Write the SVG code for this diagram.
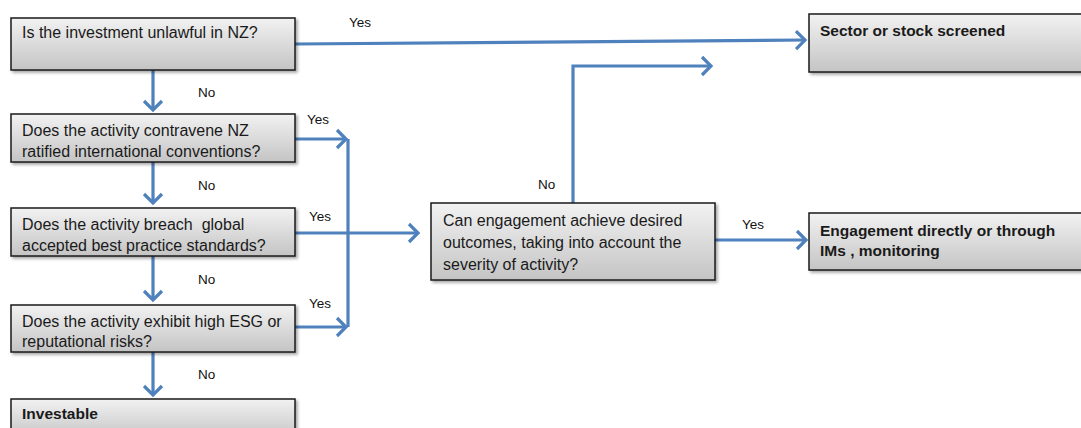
<svg xmlns="http://www.w3.org/2000/svg" width="1081" height="428" viewBox="0 0 1081 428">
<style>
.box{fill:url(#g);stroke:#1a1a1a;stroke-width:1.5;filter:url(#sh)}
.t{font-family:"Liberation Sans",Arial,sans-serif;font-size:16px;fill:#1a1a1a}
.b{font-weight:bold;font-size:15.5px}
.lb{font-family:"Liberation Sans",Arial,sans-serif;font-size:13.5px;fill:#111}
.c{fill:none;stroke:#4f81bd;stroke-width:3.2;marker-end:url(#a)}
.n{fill:none;stroke:#4f81bd;stroke-width:3.2}
</style>
<defs>
<linearGradient id="g" x1="0" y1="0" x2="0" y2="1">
<stop offset="0" stop-color="#f2f2f2"/>
<stop offset="1" stop-color="#c4c4c4"/>
</linearGradient>
<filter id="sh" x="-5%" y="-10%" width="115%" height="130%">
<feDropShadow dx="2" dy="2" stdDeviation="1.5" flood-color="#000" flood-opacity="0.35"/>
</filter>
<marker id="a" markerWidth="8" markerHeight="10" refX="6" refY="5" orient="auto" markerUnits="userSpaceOnUse" viewBox="0 0 8 10" overflow="visible">
<polyline points="-3,-4 6,5 -3,14" fill="none" stroke="#4f81bd" stroke-width="3.2" stroke-linejoin="miter"/>
</marker>
</defs>
<g id="connectors">
<path class="c" d="M295,44 L805,40"/>
<path class="c" d="M153,70 L153,110"/>
<path class="c" d="M153,162 L153,203"/>
<path class="c" d="M153,256 L153,300"/>
<path class="c" d="M153,352 L153,395"/>
<path class="c" d="M295,139 L346,139"/>
<path class="c" d="M295,327 L346,327"/>
<path class="n" d="M348,139 L348,327"/>
<path class="c" d="M295,233 L418,233"/>
<path class="c" d="M573,203 L573,66 L711,66"/>
<path class="c" d="M715,240 L806,240"/>
</g>
<g id="labels">
<text class="lb" x="349" y="27">Yes</text>
<text class="lb" x="198" y="97">No</text>
<text class="lb" x="307" y="124">Yes</text>
<text class="lb" x="198" y="190">No</text>
<text class="lb" x="309" y="221">Yes</text>
<text class="lb" x="198" y="284">No</text>
<text class="lb" x="309" y="308">Yes</text>
<text class="lb" x="198" y="379">No</text>
<text class="lb" x="538" y="189">No</text>
<text class="lb" x="742" y="229">Yes</text>
</g>
<g id="n1"><rect class="box" x="11" y="18" width="284" height="52"/><text class="t" x="22" y="38">Is the investment unlawful in NZ?</text></g>
<g id="n2"><rect class="box" x="11" y="114" width="284" height="48"/><text class="t" x="22" y="136">Does the activity contravene NZ</text><text class="t" x="22" y="157">ratified international conventions?</text></g>
<g id="n3"><rect class="box" x="11" y="208" width="284" height="48"/><text class="t" x="22" y="230" xml:space="preserve">Does the activity breach  global</text><text class="t" x="22" y="251">accepted best practice standards?</text></g>
<g id="n4"><rect class="box" x="11" y="305" width="284" height="47"/><text class="t" x="22" y="327">Does the activity exhibit high ESG or</text><text class="t" x="22" y="347">reputational risks?</text></g>
<g id="n5"><rect class="box" x="11" y="399" width="284" height="40"/><text class="t b" x="22" y="419">Investable</text></g>
<g id="n6"><rect class="box" x="431" y="203" width="284" height="77"/><text class="t" x="443" y="226">Can engagement achieve desired</text><text class="t" x="443" y="248">outcomes, taking into account the</text><text class="t" x="443" y="270">severity of activity?</text></g>
<g id="n7"><rect class="box" x="809" y="14" width="275" height="58"/><text class="t b" x="820" y="36">Sector or stock screened</text></g>
<g id="n8"><rect class="box" x="809" y="213" width="275" height="57"/><text class="t b" x="820" y="236">Engagement directly or through</text><text class="t b" x="820" y="256">IMs , monitoring</text></g>
</svg>
